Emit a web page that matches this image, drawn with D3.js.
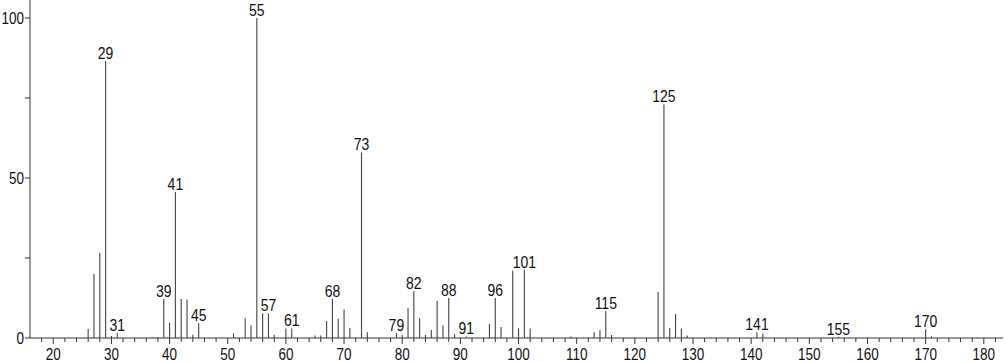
<!DOCTYPE html>
<html>
<head>
  <meta charset="utf-8">
  <script src="https://d3js.org/d3.v7.min.js"></script>
  <style>
    body { margin: 0; background: #fff; }
    text { font-family: "Liberation Sans", Arial, sans-serif; fill: #111; }
  </style>
</head>
<body>
<script>
// m/z and relative intensity
var mz = [26, 27, 28, 29, 30, 31, 37, 38, 39, 40, 41, 42, 43, 44, 45,
  51, 53, 54, 55, 56, 57, 58, 60, 61, 65, 66, 67, 68, 69, 70, 71, 73, 74,
  79, 80, 81, 82, 83, 84, 85, 86, 87, 88, 89, 91, 95, 96, 97, 99, 100, 101, 102,
  109, 113, 114, 115, 116, 124, 125, 126, 127, 128, 129,
  141, 142, 155, 170, 171];
var intensity = [2.8, 20, 26.6, 86.6, 0.6, 1.6, 0.3, 0.3, 12.2, 4.8, 45.6, 12.2, 12, 1, 4.6,
  1.5, 6.2, 4, 100, 7.7, 7.7, 1, 3, 3, 0.8, 0.8, 5.3, 12.2, 6, 8.9, 3.1, 58, 1.8,
  1.5, 0.9, 9.4, 14.7, 6.2, 1, 2.5, 11.6, 4, 12.5, 1.2, 0.5, 4.4, 12.5, 3.4, 21, 3, 21.3, 3,
  0.5, 1.8, 2.4, 8.4, 0.9, 14.4, 73, 3.1, 7.5, 3, 0.8,
  1.8, 1.5, 0.4, 2.7, 0.5];
var labelled = [29, 31, 39, 41, 45, 55, 57, 61, 68, 73, 79, 82, 88, 91, 96, 101, 115, 125, 141, 155, 170];
var xTicks = [20, 30, 40, 50, 60, 70, 80, 90, 100, 110, 120, 130, 140, 150, 160, 170, 180];
var yTicks = [0, 50, 100];

var W = 1007, H = 362;
var svg = d3.select("body").append("svg")
  .attr("width", W).attr("height", H);

var x = d3.scaleLinear().domain([16, 183.3]).range([30, 1003]);
var y = d3.scaleLinear().domain([0, 100]).range([338, 18]);

// the text in the picture is a bit taller than it is wide
function place(tx, ty) { return "translate(" + tx + "," + ty + ") scale(1,1.2)"; }

// x axis
var xg = svg.append("g");
xg.append("line")
  .attr("x1", 30).attr("x2", 1003)
  .attr("y1", y(0)).attr("y2", y(0))
  .attr("stroke", "#333");
xg.selectAll(".minor")
  .data(d3.range(18, 184, 2))
  .enter().append("line")
  .attr("x1", function(d){ return x(d); })
  .attr("x2", function(d){ return x(d); })
  .attr("y1", y(0))
  .attr("y2", function(d){ return y(0) + (d % 10 === 0 ? 6 : 4); })
  .attr("stroke", "#333");
xg.selectAll(".xlab")
  .data(xTicks)
  .enter().append("text")
  .attr("transform", function(d){ return place(x(d), 360); })
  .attr("text-anchor", "middle")
  .attr("font-size", 13.5)
  .text(function(d){ return d; });

// y axis
var yg = svg.append("g");
yg.append("line")
  .attr("x1", 30).attr("x2", 30)
  .attr("y1", 0).attr("y2", y(0))
  .attr("stroke", "#333");
yg.selectAll(".ytick")
  .data([0, 25, 50, 75, 100])
  .enter().append("line")
  .attr("x1", 25).attr("x2", 30)
  .attr("y1", function(d){ return y(d); })
  .attr("y2", function(d){ return y(d); })
  .attr("stroke", "#333");
yg.selectAll(".ylab")
  .data(yTicks)
  .enter().append("text")
  .attr("transform", function(d){ return place(24, y(d) + 6); })
  .attr("text-anchor", "end")
  .attr("font-size", 13.5)
  .text(function(d){ return d; });

// peaks
var peaks = mz.map(function(m, i){ return {m: m, v: intensity[i]}; });
svg.selectAll(".peak")
  .data(peaks)
  .enter().append("line")
  .attr("x1", function(d){ return x(d.m); })
  .attr("x2", function(d){ return x(d.m); })
  .attr("y1", y(0))
  .attr("y2", function(d){ return y(d.v); })
  .attr("stroke", "#444")
  .attr("stroke-width", 1.1);

svg.selectAll(".plab")
  .data(peaks.filter(function(d){ return labelled.indexOf(d.m) >= 0; }))
  .enter().append("text")
  .attr("transform", function(d){ return place(x(d.m), y(d.v) - 2); })
  .attr("text-anchor", "middle")
  .attr("font-size", 14)
  .text(function(d){ return d.m; });
</script>
</body>
</html>
